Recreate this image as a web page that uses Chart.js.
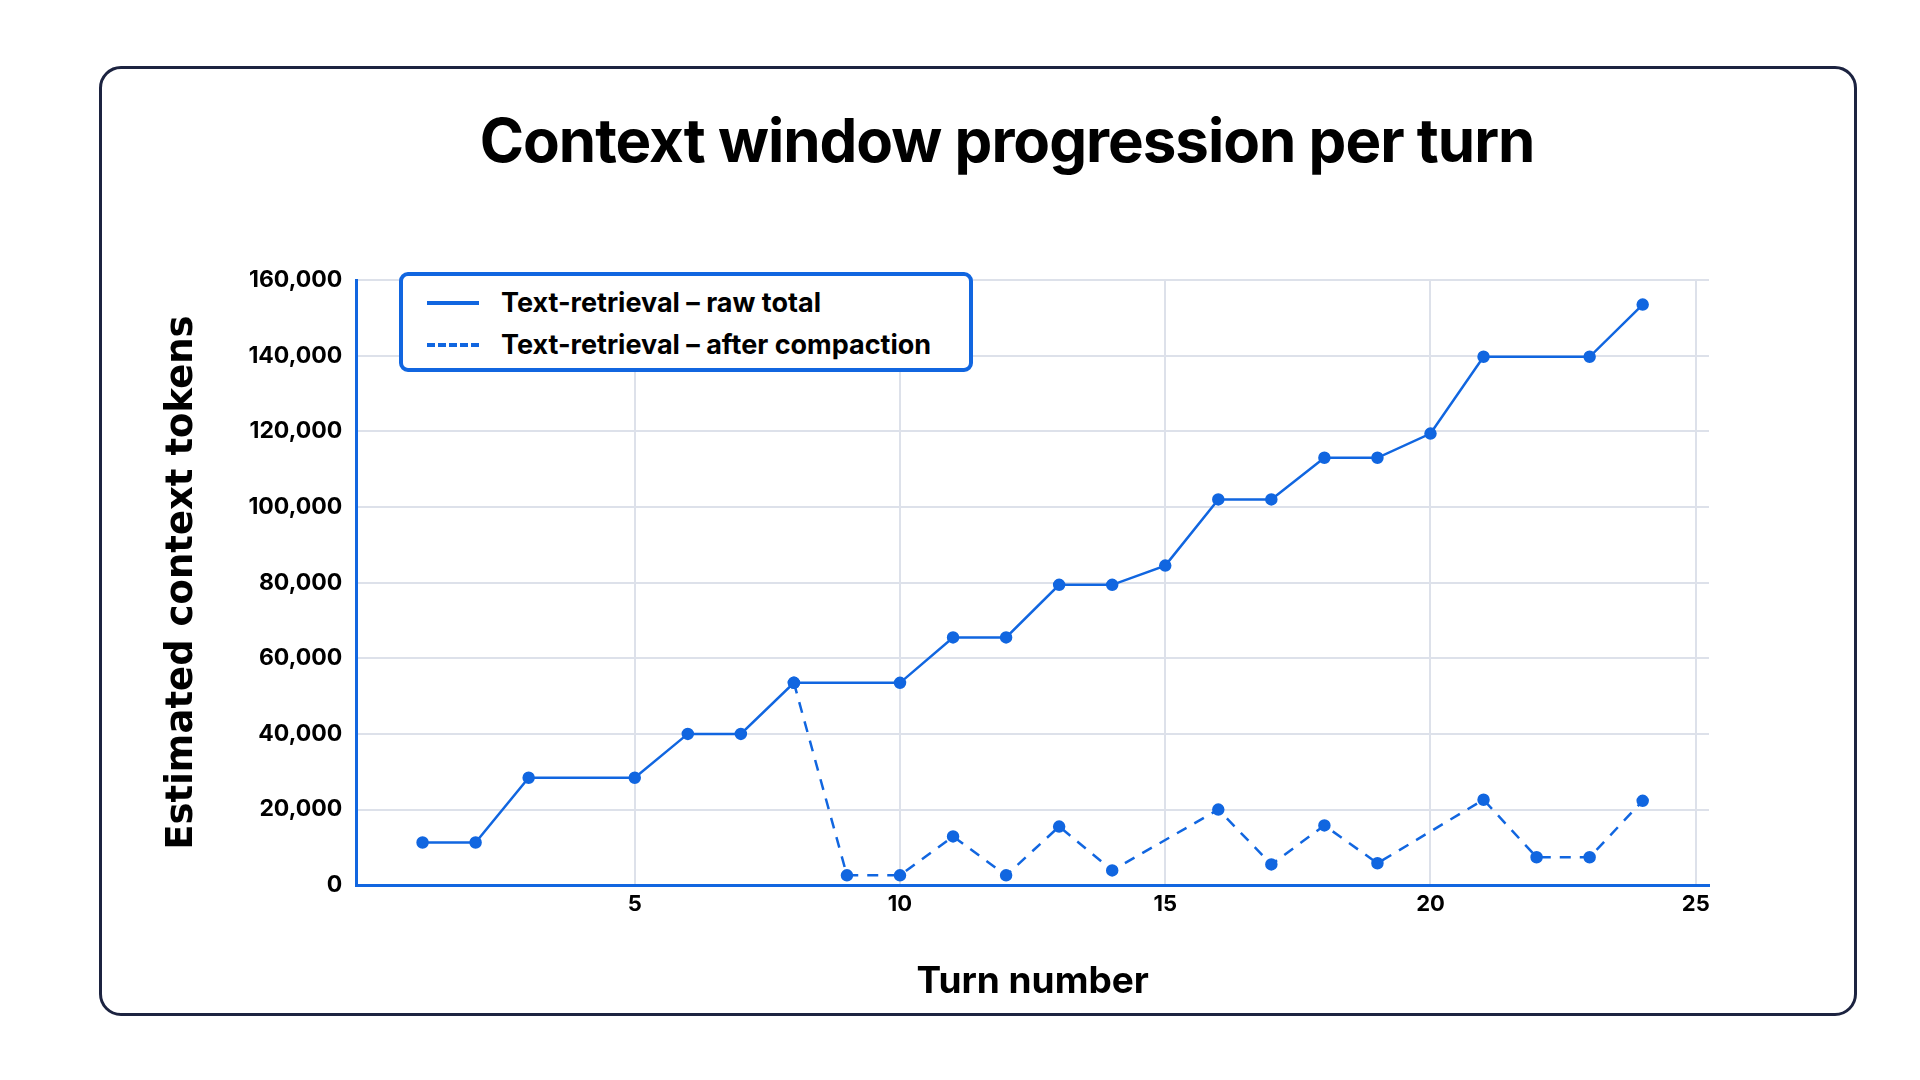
<!DOCTYPE html>
<html><head><meta charset="utf-8">
<script src="https://cdn.jsdelivr.net/npm/chart.js@4"></script>
<style>
html,body{margin:0;padding:0;background:#fff;width:1920px;height:1080px;overflow:hidden;font-family:Inter,"Noto Sans",sans-serif}
#card{position:absolute;left:99px;top:66px;width:1752px;height:944px;border:3px solid #1c2340;border-radius:22px}
#title{position:absolute;left:0;width:2014px;top:104px;text-align:center;font-size:60px;font-weight:700;color:#000;letter-spacing:-1px}
#wrap{position:absolute;left:0;top:0;width:1920px;height:1080px}
#legend{position:absolute;left:399px;top:272px;width:574px;height:100px;border:4px solid #1166e0;border-radius:9px;background:#fff;box-sizing:border-box}
.row{position:absolute;left:24px;font-size:27px;font-weight:700;color:#000;display:flex;align-items:center}
.sw{width:52px;height:0;border-top:4px solid #1166e0;margin-right:22px}
</style></head><body>
<div id="card"></div>
<div id="title">Context window progression per turn</div>
<div id="wrap"><canvas id="c" width="1920" height="1080"></canvas></div>
<div id="legend">
 <div class="row" style="top:10px"><div class="sw"></div>Text-retrieval – raw total</div>
 <div class="row" style="top:52px"><div class="sw" style="border-top-style:dashed"></div>Text-retrieval – after compaction</div>
</div>
<script>
const rawTurns = [1,2,3,5,6,7,8,10,11,12,13,14,15,16,17,18,19,20,21,23,24];
const rawTokens = [11300,11300,28400,28400,40000,40000,53500,53500,65500,65500,79400,79400,84500,102000,102000,113000,113000,119400,139700,139700,153500];
const compTurns = [8,9,10,11,12,13,14,16,17,18,19,21,22,23,24];
const compTokens = [53500,2600,2600,12900,2600,15500,3900,20000,5500,15800,5800,22600,7400,7400,22300];
const xTicks = [5,10,15,20,25];
const yTicks = [0,20000,40000,60000,80000,100000,120000,140000,160000];
const blue = '#1166e0';
const pts = (xs, ys) => xs.map((x,i)=>({x, y: ys[i]}));
new Chart(document.getElementById('c'), {
  type: 'line',
  data: { datasets: [
    { label: 'Text-retrieval – raw total', data: pts(rawTurns, rawTokens), borderColor: blue, backgroundColor: blue, borderWidth: 2.5, pointRadius: 5, pointHoverRadius: 5, tension: 0 },
    { label: 'Text-retrieval – after compaction', data: pts(compTurns, compTokens), borderColor: blue, backgroundColor: blue, borderWidth: 2.5, borderDash: [11,9], pointRadius: 5, pointHoverRadius: 5, tension: 0 }
  ]},
  options: {
    responsive: false, animation: false,
    layout: { padding: { left: 156, top: 280, right: 211, bottom: 72 } },
    plugins: { legend: { display: false }, tooltip: { enabled: false } },
    scales: {
      x: { type: 'linear', min: -0.25, max: 25.25,
        afterBuildTicks: a => { a.ticks = xTicks.map(v => ({value: v})); },
        ticks: { font: { size: 22, weight: 'bold', family: 'Inter' }, color: '#000', padding: 6 },
        grid: { color: '#dde1ea', lineWidth: 2, drawTicks: false },
        border: { color: blue, width: 3 },
        title: { display: true, text: 'Turn number', font: { size: 37, weight: 'bold', family: 'Inter' }, color: '#000', padding: { top: 36 } } },
      y: { min: 0, max: 160000,
        afterBuildTicks: a => { a.ticks = yTicks.map(v => ({value: v})); },
        ticks: { font: { size: 23, weight: 'bold', family: 'Inter' }, color: '#000', padding: 14, callback: v => v.toLocaleString('en-US') },
        grid: { color: '#dde1ea', lineWidth: 2, drawTicks: false },
        border: { color: blue, width: 3 },
        title: { display: true, text: 'Estimated context tokens', font: { size: 37, weight: 'bold', family: 'DejaVu Sans' }, color: '#000', padding: { bottom: 30 } } }
    }
  }
});
</script>
</body></html>
